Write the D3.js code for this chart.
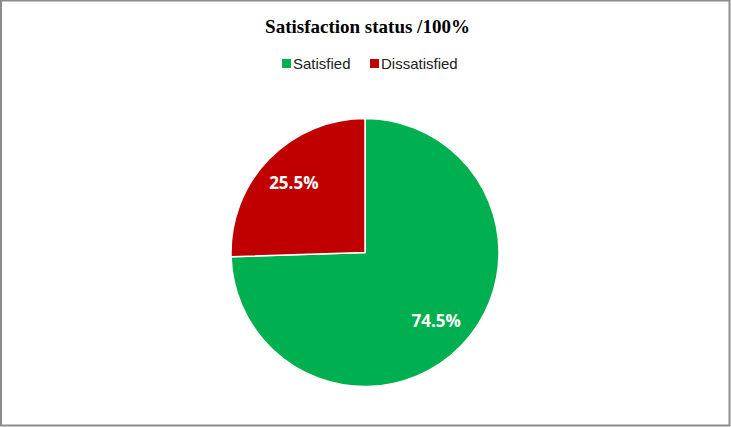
<!DOCTYPE html>
<html>
<head>
<meta charset="utf-8">
<script src="https://cdn.jsdelivr.net/npm/d3@7"></script>
<style>
  body { margin: 0; background: #fff; }
  svg { display: block; }
</style>
</head>
<body>
<main></main>
<script>
const categories = ["Satisfied", "Dissatisfied"];
const values = [74.5, 25.5];
const colors = ["#00B050", "#C00000"];

const w = 731;
const h = 427;
const cx = 365;
const cy = 252.5;
const radius = 134;

const svg = d3
  .select("main")
  .append("svg")
  .attr("width", w)
  .attr("height", h);

// chart border
svg
  .append("rect")
  .attr("x", 1)
  .attr("y", 0.5)
  .attr("width", w - 2.5)
  .attr("height", h - 2)
  .attr("fill", "#fff")
  .attr("stroke", "#8c8c8c")
  .attr("stroke-width", 2);

// title
svg
  .append("text")
  .attr("x", w / 2 + 2)
  .attr("y", 33)
  .attr("text-anchor", "middle")
  .style("font-family", "'Liberation Serif', 'Times New Roman', serif")
  .style("font-weight", "bold")
  .style("font-size", "19px")
  .text("Satisfaction status /100%");

// legend
const legend = svg.append("g").attr("transform", "translate(282, 64)");
const legendX = [0, 88];
categories.forEach((c, i) => {
  const g = legend.append("g").attr("transform", `translate(${legendX[i]}, 0)`);
  g.append("rect")
    .attr("x", 0)
    .attr("y", -5)
    .attr("width", 9)
    .attr("height", 9)
    .attr("fill", colors[i]);
  g.append("text")
    .attr("x", 11)
    .attr("y", 0)
    .attr("dy", "0.35em")
    .style("font-family", "'Liberation Sans', Arial, sans-serif")
    .style("font-size", "15px")
    .style("fill", "#222")
    .text(c);
});

// pie
const pie = d3.pie().sort(null).value(d => d);
const arc = d3.arc().innerRadius(0).outerRadius(radius);
const labelArc = d3.arc().innerRadius(radius * 0.74).outerRadius(radius * 0.74);

const slices = svg
  .append("g")
  .attr("transform", `translate(${cx}, ${cy})`)
  .selectAll("g")
  .data(pie(values))
  .enter()
  .append("g");

slices
  .append("path")
  .attr("d", arc)
  .attr("fill", (d, i) => colors[i])
  .attr("stroke", "#fff")
  .attr("stroke-width", 1.5);

slices
  .append("text")
  .attr("transform", d => `translate(${labelArc.centroid(d)})`)
  .attr("text-anchor", "middle")
  .attr("dy", "0.35em")
  .style("font-family", "'Open Sans', 'Noto Sans', sans-serif")
  .style("font-weight", "bold")
  .style("font-size", "17px")
  .style("fill", "#fff")
  .text(d => d.data.toFixed(1) + "%");
</script>
</body>
</html>
